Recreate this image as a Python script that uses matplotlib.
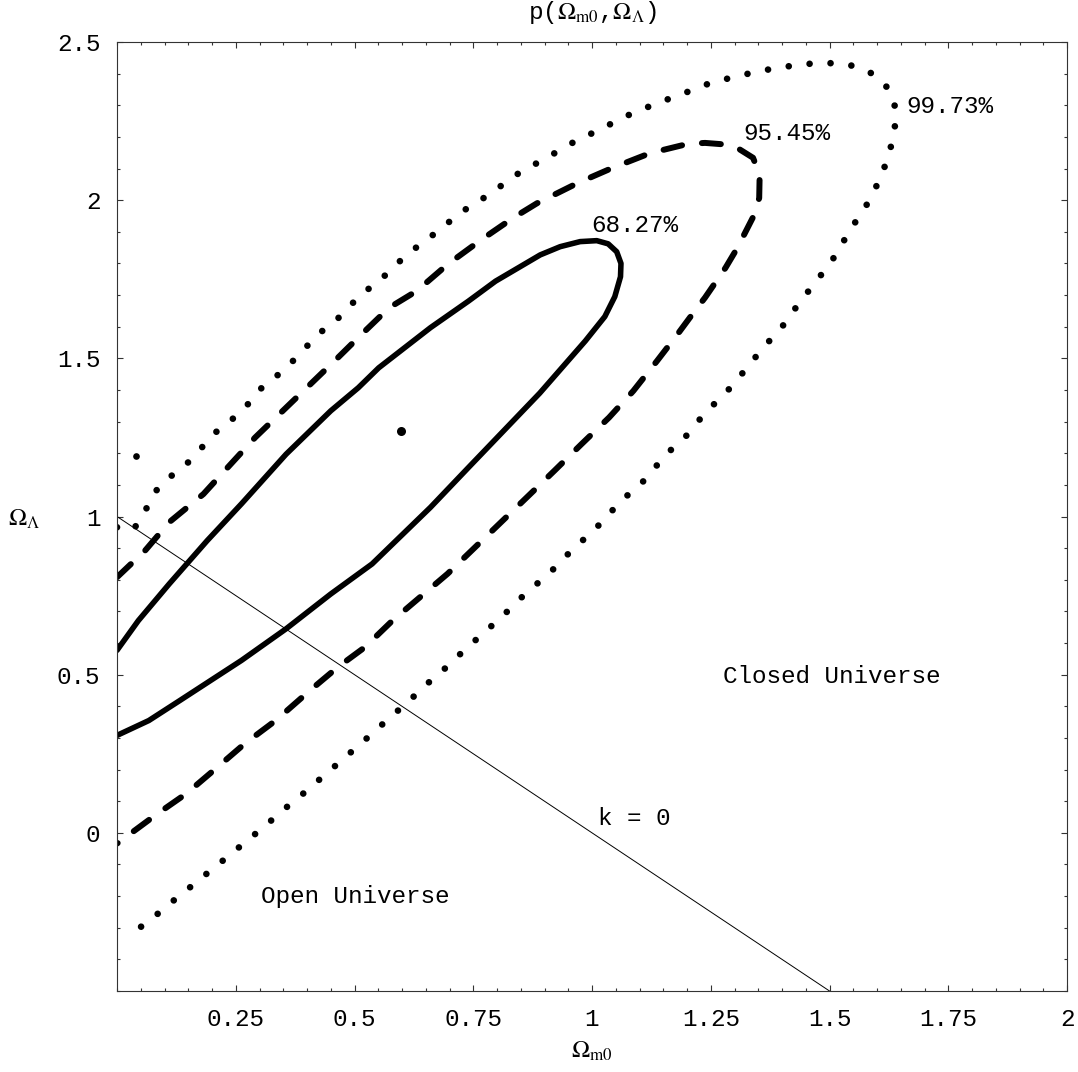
import numpy as np
import matplotlib
matplotlib.use('Agg')
import matplotlib.pyplot as plt
from matplotlib.ticker import FixedLocator, FixedFormatter, MultipleLocator

plt.rcParams['font.family'] = ['Liberation Mono', 'DejaVu Sans']
plt.rcParams['mathtext.fontset'] = 'stix'
plt.rcParams['lines.scale_dashes'] = False

# contour levels (Omega_m0, Omega_Lambda)
sigma1_x = [0, 0.045, 0.11, 0.19, 0.262, 0.356, 0.45, 0.508, 0.551, 0.66, 0.74, 0.797, 0.891, 0.933,
            0.975, 1.01, 1.034, 1.052, 1.061, 1.06, 1.048, 1.027, 0.986, 0.89, 0.74, 0.66, 0.537,
            0.45, 0.356, 0.262, 0.132, 0.067, 0]
sigma1_y = [0.577, 0.671, 0.787, 0.924, 1.04, 1.197, 1.334, 1.407, 1.47, 1.597, 1.681, 1.744, 1.827,
            1.853, 1.869, 1.872, 1.862, 1.837, 1.8, 1.758, 1.695, 1.632, 1.555, 1.39, 1.155, 1.029,
            0.85, 0.755, 0.645, 0.545, 0.418, 0.355, 0.308]

sigma2_x = [0, 0.059, 0.11, 0.182, 0.233, 0.291, 0.349, 0.407, 0.465, 0.515, 0.573, 0.631, 0.696,
            0.768, 0.834, 0.884, 0.971, 1.043, 1.123, 1.202, 1.238, 1.281, 1.306, 1.339, 1.353,
            1.352, 1.342, 1.324, 1.306, 1.281, 1.238, 1.216, 1.18, 1.137, 1.087, 1.036, 0.978,
            0.921, 0.87, 0.812, 0.754, 0.696, 0.638, 0.58, 0.522, 0.465, 0.407, 0.334, 0.269,
            0.204, 0.146, 0.081, 0]
sigma2_y = [0.808, 0.892, 0.982, 1.071, 1.155, 1.25, 1.334, 1.418, 1.502, 1.576, 1.66, 1.713, 1.797,
            1.876, 1.944, 1.99, 2.055, 2.102, 2.149, 2.178, 2.181, 2.176, 2.165, 2.134, 2.081,
            2.007, 1.955, 1.902, 1.849, 1.786, 1.692, 1.649, 1.576, 1.492, 1.397, 1.313, 1.229,
            1.145, 1.071, 0.987, 0.903, 0.819, 0.745, 0.671, 0.587, 0.524, 0.451, 0.355, 0.282,
            0.198, 0.124, 0.056, -0.034]

sigma3_x = [0, 0.034, 0.058, 0.077, 0.106, 0.142, 0.172, 0.2, 0.234, 0.268, 0.294, 0.327, 0.36,
            0.391, 0.42, 0.456, 0.485, 0.512, 0.549, 0.58, 0.613, 0.648, 0.682, 0.716, 0.752,
            0.79, 0.823, 0.861, 0.899, 0.939, 0.978, 1.018, 1.056, 1.092, 1.13, 1.172, 1.213,
            1.255, 1.297, 1.34, 1.382, 1.426, 1.47, 1.513, 1.557, 1.597, 1.626, 1.64, 1.637,
            1.627, 1.613, 1.595, 1.577, 1.555, 1.532, 1.51, 1.483, 1.456, 1.43, 1.404, 1.375,
            1.346, 1.319, 1.29, 1.26, 1.229, 1.202, 1.169, 1.139, 1.106, 1.074, 1.042, 1.012,
            0.98, 0.948, 0.917, 0.884, 0.85, 0.819, 0.787, 0.754, 0.721, 0.69, 0.656, 0.624,
            0.58, 0.548, 0.515, 0.481, 0.449, 0.415, 0.382, 0.347, 0.315, 0.281, 0.247, 0.213,
            0.179, 0.145, 0.11, 0.077, 0.031]
sigma3_y = [0.966, 0.957, 1.013, 1.073, 1.119, 1.159, 1.206, 1.257, 1.297, 1.339, 1.394, 1.432,
            1.476, 1.523, 1.573, 1.613, 1.655, 1.702, 1.739, 1.786, 1.831, 1.871, 1.909, 1.953,
            1.989, 2.023, 2.063, 2.1, 2.128, 2.165, 2.197, 2.223, 2.255, 2.279, 2.302, 2.326,
            2.349, 2.374, 2.388, 2.404, 2.416, 2.426, 2.433, 2.433, 2.423, 2.395, 2.349, 2.286,
            2.22, 2.155, 2.092, 2.032, 1.982, 1.932, 1.876, 1.82, 1.765, 1.713, 1.662, 1.607,
            1.558, 1.507, 1.457, 1.405, 1.36, 1.311, 1.26, 1.215, 1.166, 1.108, 1.066, 1.018,
            0.969, 0.924, 0.879, 0.831, 0.787, 0.742, 0.696, 0.652, 0.608, 0.563, 0.519, 0.475,
            0.43, 0.371, 0.329, 0.284, 0.24, 0.198, 0.154, 0.111, 0.069, 0.026, -0.016, -0.058,
            -0.1, -0.141, -0.183, -0.225, -0.267, -0.319]

# stray piece of the 99.73% contour near the left edge
stray_x = [0.041]
stray_y = [1.192]

best_fit = (0.598, 1.269)
flat_x = [0, 1.5]
flat_y = [1, -0.5]

level_labels = ['68.27%', '95.45%', '99.73%']
level_pos = [(1.089, 1.90), (1.41, 2.191), (1.754, 2.276)]

x_ticks = [0.25, 0.5, 0.75, 1, 1.25, 1.5, 1.75, 2]
x_tick_labels = ['0.25', '0.5', '0.75', '1', '1.25', '1.5', '1.75', '2']
y_ticks = [0, 0.5, 1, 1.5, 2, 2.5]
y_tick_labels = ['0', '0.5', '1', '1.5', '2', '2.5']

fig = plt.figure(figsize=(10.78, 10.72), dpi=100)
ax = fig.add_axes([117 / 1078, 81 / 1072, 950 / 1078, 949 / 1072])

ax.plot(flat_x, flat_y, color='black', lw=0.7)
ax.plot(sigma1_x, sigma1_y, color='black', lw=4.0, solid_capstyle='round', solid_joinstyle='round')
ax.plot(sigma2_x, sigma2_y, color='black', lw=4.3, linestyle=(0, (13.7, 14.4)),
        dash_capstyle='round', dash_joinstyle='round')
ax.plot(sigma3_x, sigma3_y, color='black', lw=4.8, linestyle=(0, (0.01, 15.1)),
        dash_capstyle='round')
ax.plot(stray_x, stray_y, 'o', color='black', ms=4.8, mew=0)
ax.plot([best_fit[0]], [best_fit[1]], 'o', color='black', ms=6.5, mew=0)

for lab, (lx, ly) in zip(level_labels, level_pos):
    ax.text(lx, ly, lab, ha='center', va='baseline', fontsize=17.5)
ax.text(1.505, 0.474, 'Closed Universe', ha='center', va='baseline', fontsize=17.5)
ax.text(0.501, -0.223, 'Open Universe', ha='center', va='baseline', fontsize=17.5)
ax.text(1.088, 0.025, 'k = 0', ha='center', va='baseline', fontsize=17.5)

ax.set_xlim(0, 2)
ax.set_ylim(-0.5, 2.5)
ax.xaxis.set_major_locator(FixedLocator(x_ticks))
ax.xaxis.set_major_formatter(FixedFormatter(x_tick_labels))
ax.yaxis.set_major_locator(FixedLocator(y_ticks))
ax.yaxis.set_major_formatter(FixedFormatter(y_tick_labels))
ax.xaxis.set_minor_locator(MultipleLocator(0.05))
ax.yaxis.set_minor_locator(MultipleLocator(0.1))
ax.tick_params(which='both', direction='in', top=True, right=True, width=0.8, colors='#333333',
               labelcolor='black', labelsize=17.5)
ax.tick_params(which='major', length=4.2)
ax.tick_params(which='minor', length=2.2)
ax.tick_params(axis='x', pad=12)
ax.tick_params(axis='y', pad=12)
for sp in ax.spines.values():
    sp.set_linewidth(0.8)
    sp.set_color('#333333')

ax.set_xlabel(r'$\Omega_{\rm m0}$', fontsize=17.5)
ax.xaxis.set_label_coords(0.5, -0.064)
ax.xaxis.label.set_va('center')
ax.set_ylabel(r'$\Omega_\Lambda$', rotation=0, fontsize=17.5)
ax.yaxis.set_label_coords(-0.098, 0.497)
ax.yaxis.label.set_va('center')
ax.yaxis.label.set_ha('center')

ax.text(0.5, 1.031, r'p($\Omega_{\rm m0}$,$\Omega_\Lambda$)', transform=ax.transAxes,
        ha='center', va='center', fontsize=17.5)

fig.savefig('out.png', dpi=100)
